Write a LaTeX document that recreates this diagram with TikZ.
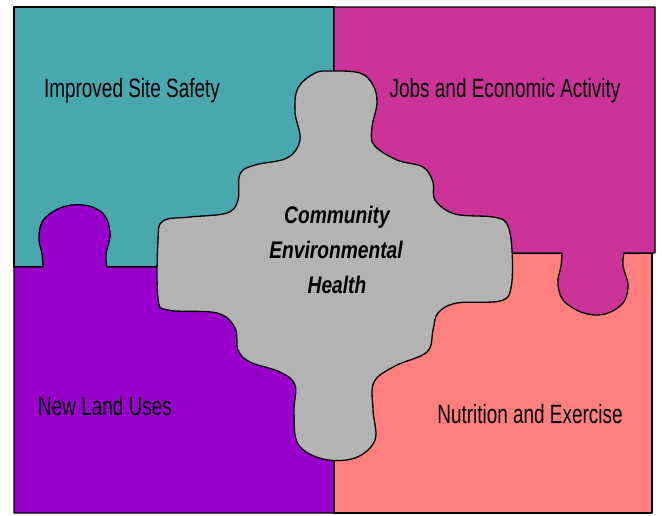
\documentclass[tikz,border=0pt]{standalone}
\usepackage{fontspec}
\setmainfont{Liberation Sans}
\newfontfamily\narrowsans[FakeStretch=0.715]{Liberation Sans}
\newfontfamily\corefont[FakeStretch=0.8]{Liberation Sans}
\definecolor{tealc}{HTML}{49A7AF}
\definecolor{magentac}{HTML}{CC3399}
\definecolor{purplec}{HTML}{9900CC}
\definecolor{pinkc}{HTML}{FF7F7F}
\definecolor{grayc}{HTML}{B3B3B3}
\begin{document}
\begin{tikzpicture}[x=1pt,y=-1pt,
  piece/.style={draw=black, line width=1.3pt, line join=round},
  lbl/.style={font=\narrowsans\fontsize{26.5}{30}\selectfont, anchor=base, inner sep=0pt},
  core/.style={font=\corefont\bfseries\itshape\fontsize{24}{28}\selectfont, anchor=base, inner sep=0pt}]
\useasboundingbox (0,0) rectangle (662,515);
\fill[white] (0,0) rectangle (662,515);

% upper left piece
\filldraw[piece, fill=tealc] (14,7) rectangle (334,267);
% lower right piece
\filldraw[piece, fill=pinkc] (334,253) rectangle (652,513);
% lower left piece with its knob reaching up
\filldraw[piece, fill=purplec] (14,513) -- (14,267) --
  plot[smooth, tension=0.7] coordinates {(43,267) (42,254) (39,236) (46,217) (72,205) (100,211) (110,232) (106,254) (107,267)}
  -- (334,267) -- (334,513) -- cycle;
% upper right piece with its knob reaching down
\filldraw[piece, fill=magentac] (334,7) -- (655,7) -- (655,253) --
  plot[smooth, tension=0.7] coordinates {(624,253) (623,266) (628,287) (620,306) (595,315) (567,304) (558,285) (561,266) (562,253)}
  -- (334,253) -- cycle;
% central piece
\filldraw[piece, fill=grayc] plot[smooth cycle, tension=0.6] coordinates {
  (332,71) (360,73) (373,85) (377,103) (372,127) (374,145) (397,160) (423,167)
  (433,182) (435,200) (455,214) (493,217) (507,224) (512,250) (511,288) (500,301)
  (457,303) (438,313) (433,330) (427,352) (395,366) (374,382) (373,410) (375,440)
  (355,458) (323,459) (298,444) (294,412) (295,385) (280,372) (250,362) (238,350)
  (235,328) (217,313) (168,310) (158,298) (158,240) (163,221) (190,217) (227,213)
  (238,200) (240,174) (255,165) (287,158) (300,140) (295,112) (298,88) (315,73)};

\node[lbl] (safety) at (132,97) {Improved Site Safety};
\node[lbl] (jobs) at (505,97) {Jobs and Economic Activity};
\node[lbl] (land) at (105,415) {New Land Uses};
\node[lbl] (nutrition) at (530,423) {Nutrition and Exercise};
\node[core] (core1) at (337,223) {Community};
\node[core] (core2) at (336,258) {Environmental};
\node[core] (core3) at (337,293) {Health};
\end{tikzpicture}
\end{document}
